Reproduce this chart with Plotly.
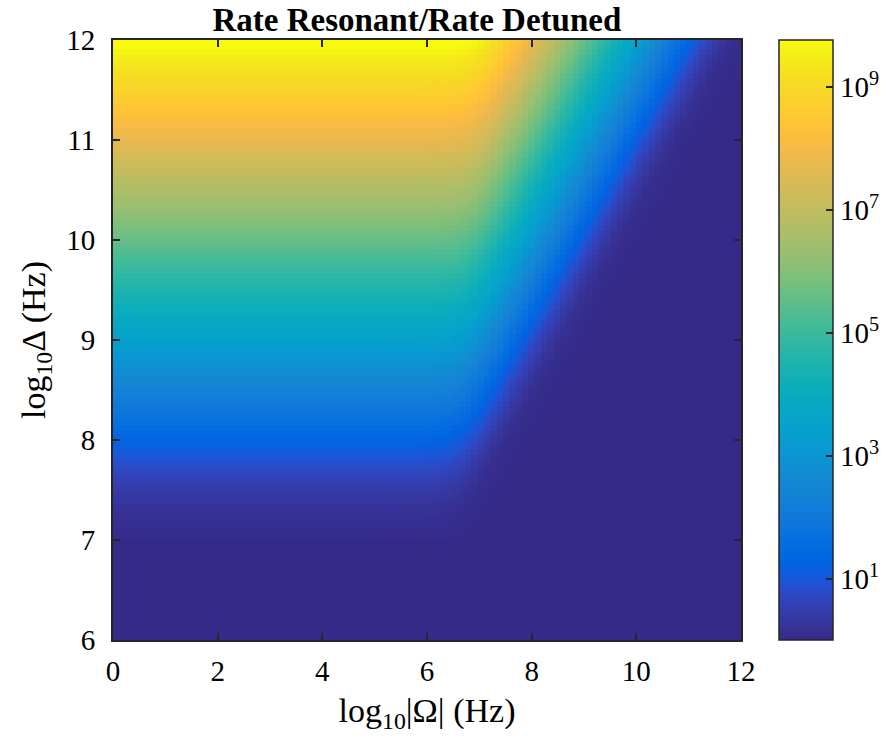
import numpy as np
import plotly.graph_objects as go

# ---- axes / grid (log10 units) ----
omega_log = np.linspace(0, 12, 100)      # log10|Omega| (Hz)
delta_log = np.linspace(6, 12, 100)      # log10 Delta (Hz)

x_ticks = [0, 2, 4, 6, 8, 10, 12]
y_ticks = [6, 7, 8, 9, 10, 11, 12]
cb_tickvals = [1, 3, 5, 7, 9]
cb_ticktext = ["10<sup>1</sup>", "10<sup>3</sup>", "10<sup>5</sup>", "10<sup>7</sup>", "10<sup>9</sup>"]

# ---- values (log10 of the ratio) ----
slope = 2.15              # decades of ratio per decade of Delta / Omega
delta_knee = 7.4          # log10 Delta where ratio starts rising (left edge)
omega_knee_at8 = 6.7      # log10 |Omega| where roll-off begins (at Delta = 1e8)
omega_knee_drift = 0.08   # shift of that knee per decade of Delta
delta_cut = 7.0           # below this Delta the ratio is 1
z_max = 9.76              # top of colour bar (log10)

X, Y = np.meshgrid(omega_log, delta_log)
knee = omega_knee_at8 + omega_knee_drift * (Y - 8)
inner = slope * (Y - delta_knee) - np.log10(1 + 10 ** (slope * (X - knee)))
Z = np.log10(1 + 10 ** inner)
Z[Y < delta_cut] = 0.0

# MATLAB parula colormap (64 entries)
parula_rgb = [
    [0.2081, 0.1663, 0.5292], [0.2116, 0.1898, 0.5777], [0.2123, 0.2138, 0.6270], [0.2081, 0.2386, 0.6771],
    [0.1959, 0.2645, 0.7279], [0.1707, 0.2919, 0.7792], [0.1253, 0.3242, 0.8303], [0.0591, 0.3598, 0.8683],
    [0.0117, 0.3875, 0.8820], [0.0060, 0.4086, 0.8828], [0.0165, 0.4266, 0.8786], [0.0329, 0.4430, 0.8720],
    [0.0498, 0.4586, 0.8641], [0.0629, 0.4737, 0.8554], [0.0723, 0.4887, 0.8467], [0.0779, 0.5040, 0.8384],
    [0.0793, 0.5200, 0.8312], [0.0749, 0.5375, 0.8263], [0.0641, 0.5570, 0.8240], [0.0488, 0.5772, 0.8228],
    [0.0343, 0.5966, 0.8199], [0.0265, 0.6137, 0.8135], [0.0239, 0.6287, 0.8038], [0.0231, 0.6418, 0.7913],
    [0.0228, 0.6535, 0.7768], [0.0267, 0.6642, 0.7607], [0.0384, 0.6743, 0.7436], [0.0590, 0.6838, 0.7254],
    [0.0843, 0.6928, 0.7062], [0.1133, 0.7015, 0.6859], [0.1453, 0.7098, 0.6646], [0.1801, 0.7177, 0.6424],
    [0.2178, 0.7250, 0.6193], [0.2586, 0.7317, 0.5954], [0.3022, 0.7376, 0.5712], [0.3482, 0.7424, 0.5473],
    [0.3953, 0.7459, 0.5244], [0.4420, 0.7481, 0.5033], [0.4871, 0.7491, 0.4840], [0.5300, 0.7491, 0.4661],
    [0.5709, 0.7485, 0.4494], [0.6099, 0.7473, 0.4337], [0.6473, 0.7456, 0.4188], [0.6834, 0.7435, 0.4044],
    [0.7184, 0.7411, 0.3905], [0.7525, 0.7384, 0.3768], [0.7858, 0.7356, 0.3633], [0.8185, 0.7327, 0.3498],
    [0.8507, 0.7299, 0.3360], [0.8824, 0.7274, 0.3217], [0.9139, 0.7258, 0.3063], [0.9450, 0.7261, 0.2886],
    [0.9739, 0.7314, 0.2666], [0.9938, 0.7455, 0.2403], [0.9990, 0.7653, 0.2164], [0.9955, 0.7861, 0.1967],
    [0.9880, 0.8066, 0.1794], [0.9789, 0.8271, 0.1633], [0.9697, 0.8481, 0.1475], [0.9626, 0.8705, 0.1309],
    [0.9589, 0.8949, 0.1132], [0.9598, 0.9218, 0.0948], [0.9661, 0.9514, 0.0755], [0.9763, 0.9831, 0.0538],
]
n = len(parula_rgb)
parula = [[i / (n - 1), "rgb(%d,%d,%d)" % tuple(round(c * 255) for c in rgb)]
          for i, rgb in enumerate(parula_rgb)]

font_family = "Liberation Serif"
ax_col = "#262626"

fig = go.Figure(go.Heatmap(
    x=omega_log, y=delta_log, z=Z,
    colorscale=parula, zmin=0, zmax=z_max,
    colorbar=dict(
        x=1.0605, xanchor="left", xpad=0, ypad=0,
        y=0.5, yanchor="middle", len=1.0, lenmode="fraction",
        thickness=54, outlinewidth=1.5, outlinecolor=ax_col,
        tickmode="array", tickvals=cb_tickvals, ticktext=cb_ticktext,
        ticks="inside", ticklen=7, tickcolor=ax_col, tickwidth=1.5,
        tickfont=dict(family=font_family, size=29, color="black"),
    ),
))

fig.update_layout(
    width=886, height=748,
    margin=dict(l=113, r=145, t=40, b=108, autoexpand=False),
    paper_bgcolor="white", plot_bgcolor="white",
    title=dict(text="<b>Rate Resonant/Rate Detuned</b>", x=0.4705, xanchor="center",
               y=0.99, yanchor="top",
               font=dict(family=font_family, size=33, color="black")),
    font=dict(family=font_family, color="black"),
)

common = dict(showline=True, linewidth=2, linecolor=ax_col, mirror="ticks",
              ticks="inside", ticklen=7, tickwidth=2, tickcolor=ax_col,
              showgrid=False, zeroline=False,
              tickfont=dict(family=font_family, size=29, color="black"))

fig.update_xaxes(range=[0, 12], tickvals=x_ticks, ticklabelstandoff=4,
                 title=dict(text="log<sub>10</sub>|Ω| (Hz)", font=dict(family=font_family, size=34), standoff=12),
                 **common)
fig.update_yaxes(range=[6, 12], tickvals=y_ticks, ticklabelstandoff=10,
                 title=dict(text="log<sub>10</sub>Δ (Hz)", font=dict(family=font_family, size=34), standoff=10),
                 **common)

fig.write_html("out.html")
